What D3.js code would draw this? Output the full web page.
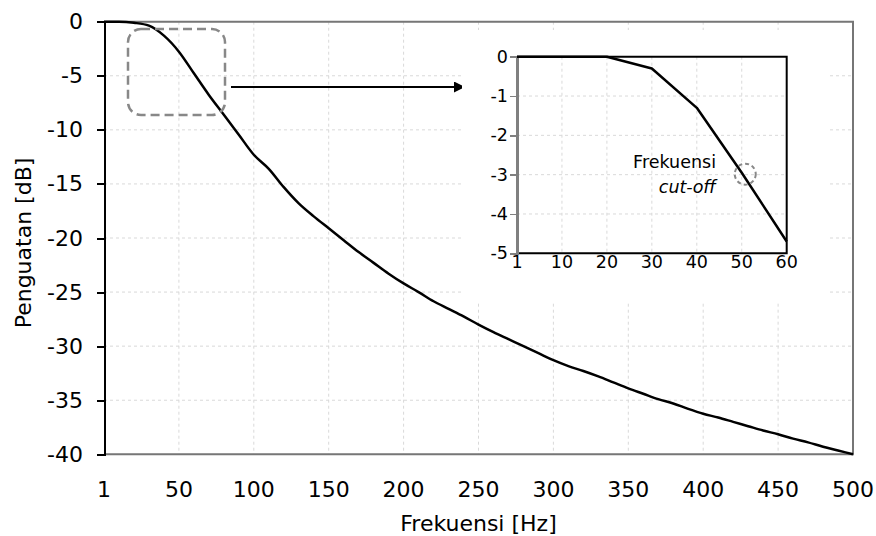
<!DOCTYPE html>
<html lang="id">
<head>
  <meta charset="UTF-8">
  <title>Penguatan vs Frekuensi</title>
  <script src="https://d3js.org/d3.v7.min.js"></script>
  <style>
    body { margin: 0; background: #fff; }
    svg { display: block; font-family: "DejaVu Sans", Verdana, sans-serif; }
    .grid line { stroke: #d9d9d9; stroke-width: 1; stroke-dasharray: 3,3; }
    .axis path, .axis line { shape-rendering: crispEdges; }
  </style>
</head>
<body>
<svg width="876" height="536"></svg>
<script>
// main curve: frequency categories (Hz) and gain (dB)
const freqs = [1, 10, 20, 30, 40, 50, 60, 70, 80, 90, 100,
  110, 120, 130, 140, 150, 160, 170, 180, 190, 200,
  210, 220, 230, 240, 250, 260, 270, 280, 290, 300,
  310, 320, 330, 340, 350, 360, 370, 380, 390, 400,
  410, 420, 430, 440, 450, 460, 470, 480, 490, 500];
const gain = [0, 0, -0.1, -0.37, -1.29, -2.77, -4.77, -6.77, -8.6, -10.45, -12.3,
  -13.6, -15.3, -16.8, -18.0, -19.1, -20.2, -21.3, -22.3, -23.3, -24.2,
  -25.0, -25.85, -26.55, -27.25, -28.0, -28.7, -29.35, -30.0, -30.65, -31.3,
  -31.85, -32.3, -32.8, -33.35, -33.9, -34.4, -34.9, -35.3, -35.8, -36.25,
  -36.6, -37.0, -37.4, -37.8, -38.15, -38.55, -38.9, -39.3, -39.65, -40.0];
const xLabels = [1, 50, 100, 150, 200, 250, 300, 350, 400, 450, 500];
const yTicks = [0, -5, -10, -15, -20, -25, -30, -35, -40];

// inset (zoom of the first 60 Hz)
const insetFreqs = [1, 10, 20, 30, 40, 50, 60];
const insetGain = [0, 0, 0, -0.3, -1.3, -2.95, -4.7];
const insetYTicks = [0, -1, -2, -3, -4, -5];
const cutoff = { freq: 50, gain: -3 };

const svg = d3.select("svg");

// ---------- main chart ----------
const x = d3.scalePoint().domain(freqs).range([104, 853]);
const y = d3.scaleLinear().domain([-40, 0]).range([454.3, 21.7]);

const grid = svg.append("g").attr("class", "grid");
grid.selectAll(".h").data(yTicks.filter(d => d !== 0 && d !== -40)).join("line")
  .attr("x1", 104).attr("x2", 853)
  .attr("y1", d => y(d)).attr("y2", d => y(d));
grid.selectAll(".v").data(xLabels.filter(d => d !== 1 && d !== 500)).join("line")
  .attr("x1", d => x(d)).attr("x2", d => x(d))
  .attr("y1", 21.7).attr("y2", 454.3);

// plot border (grey) on top, right, bottom
svg.append("path")
  .attr("d", `M104,${y(0)}H${x(500)}V${y(-40)}H104`)
  .attr("fill", "none").attr("stroke", "#767676").attr("stroke-width", 2);

const yAxis = svg.append("g").attr("class", "axis")
  .attr("transform", "translate(104,0)")
  .call(d3.axisLeft(y).tickValues(yTicks).tickSize(7).tickPadding(14).tickFormat(d => String(d)));
yAxis.select(".domain").attr("stroke", "#000").attr("stroke-width", 2);
yAxis.selectAll(".tick line").attr("stroke", "#000").attr("stroke-width", 2);
yAxis.selectAll("text").attr("font-size", 22).attr("fill", "#000")
  .attr("font-family", "DejaVu Sans");

svg.append("g").selectAll("text").data(xLabels).join("text")
  .attr("x", d => x(d)).attr("y", 497)
  .attr("text-anchor", "middle").attr("font-size", 22)
  .text(d => d);

svg.append("text")
  .attr("x", 478.5).attr("y", 531)
  .attr("text-anchor", "middle").attr("font-size", 22)
  .text("Frekuensi [Hz]");

svg.append("text")
  .attr("transform", "translate(31,243) rotate(-90)")
  .attr("text-anchor", "middle").attr("font-size", 22)
  .text("Penguatan [dB]");

svg.append("path")
  .datum(freqs.map((f, i) => [f, gain[i]]))
  .attr("fill", "none").attr("stroke", "#000").attr("stroke-width", 2.5)
  .attr("stroke-linejoin", "round")
  .attr("d", d3.line().x(d => x(d[0])).y(d => y(d[1])).curve(d3.curveMonotoneX));

// dashed zoom region
svg.append("rect")
  .attr("x", 128).attr("y", 29).attr("width", 97).attr("height", 86)
  .attr("rx", 13).attr("ry", 13)
  .attr("fill", "none").attr("stroke", "#888").attr("stroke-width", 2.5)
  .attr("stroke-dasharray", "9,5");

// arrow to inset
svg.append("defs").append("marker")
  .attr("id", "arr").attr("viewBox", "0 0 10 10")
  .attr("refX", 10).attr("refY", 5)
  .attr("markerWidth", 7).attr("markerHeight", 5.5)
  .attr("markerUnits", "strokeWidth").attr("orient", "auto")
  .append("path").attr("d", "M0,0L10,5L0,10Z").attr("fill", "#000");
svg.append("line")
  .attr("x1", 231).attr("y1", 87).attr("x2", 465).attr("y2", 87)
  .attr("stroke", "#000").attr("stroke-width", 2)
  .attr("marker-end", "url(#arr)");

// ---------- inset ----------
svg.append("rect")
  .attr("x", 462).attr("y", 30).attr("width", 365).attr("height", 273)
  .attr("fill", "#fff");

const xi = d3.scalePoint().domain(insetFreqs).range([517, 786.7]);
const yi = d3.scaleLinear().domain([-5, 0]).range([253.3, 56.7]);

const gridI = svg.append("g").attr("class", "grid");
gridI.selectAll(".h").data(insetYTicks.filter(d => d !== 0 && d !== -5)).join("line")
  .attr("x1", 517).attr("x2", 786.7)
  .attr("y1", d => yi(d)).attr("y2", d => yi(d));
gridI.selectAll(".v").data(insetFreqs.slice(1, -1)).join("line")
  .attr("x1", d => xi(d)).attr("x2", d => xi(d))
  .attr("y1", 56.7).attr("y2", 253.3);

svg.append("path")
  .attr("d", `M517,${yi(0)}H${xi(60)}V${yi(-5)}H517`)
  .attr("fill", "none").attr("stroke", "#000").attr("stroke-width", 2);

const yAxisI = svg.append("g").attr("class", "axis")
  .attr("transform", "translate(517,0)")
  .call(d3.axisLeft(yi).tickValues(insetYTicks).tickSize(7).tickPadding(2).tickFormat(d => String(d)));
yAxisI.select(".domain").attr("stroke", "#808080").attr("stroke-width", 2.5);
yAxisI.selectAll(".tick line").attr("stroke", "#808080").attr("stroke-width", 1.5);
yAxisI.selectAll("text").attr("font-size", 17.5).attr("fill", "#000")
  .attr("font-family", "DejaVu Sans");

svg.append("g").selectAll("text").data(insetFreqs).join("text")
  .attr("x", d => xi(d)).attr("y", 268)
  .attr("text-anchor", "middle").attr("font-size", 17.5)
  .text(d => d);

svg.append("path")
  .datum(insetFreqs.map((f, i) => [f, insetGain[i]]))
  .attr("fill", "none").attr("stroke", "#000").attr("stroke-width", 2.5)
  .attr("stroke-linejoin", "round")
  .attr("d", d3.line().x(d => xi(d[0])).y(d => yi(d[1])));

svg.append("circle")
  .attr("cx", xi(cutoff.freq) + 3.5).attr("cy", yi(cutoff.gain) - 0.5).attr("r", 10.5)
  .attr("fill", "none").attr("stroke", "#888").attr("stroke-width", 2)
  .attr("stroke-dasharray", "4,3");

svg.append("text")
  .attr("x", 716).attr("y", 168)
  .attr("text-anchor", "end").attr("font-size", 17.5)
  .text("Frekuensi");
svg.append("text")
  .attr("x", 716).attr("y", 193)
  .attr("text-anchor", "end").attr("font-size", 17.5).attr("font-style", "italic")
  .text("cut-off");
</script>
</body>
</html>
